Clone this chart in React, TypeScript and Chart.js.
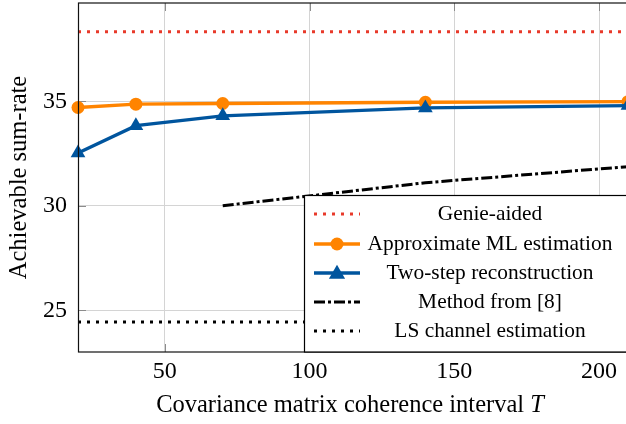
import React, { useEffect, useRef } from "react";
import { Chart, registerables } from "chart.js";

Chart.register(...registerables);

const xTicks = [50, 100, 150, 200];
const yTicks = [25, 30, 35];

const genieX = [20, 210];
const genieY = [38.33, 38.33];

const mlX = [20, 40, 70, 140, 210];
const mlY = [34.7, 34.86, 34.89, 34.95, 34.98];

const twoStepX = [20, 40, 70, 140, 210];
const twoStepY = [32.52, 33.83, 34.3, 34.68, 34.79];

const methodX = [70, 140, 210];
const methodY = [30.0, 31.1, 31.87];

const lsX = [20, 210];
const lsY = [24.44, 24.44];

const legendLabels = [
  "Genie-aided",
  "Approximate ML estimation",
  "Two-step reconstruction",
  "Method from [8]",
  "LS channel estimation",
];

const FONT = '"Liberation Serif", "Times New Roman", serif';
const RED = "#e8392a";
const ORANGE = "#ff8400";
const BLUE = "#00559e";

const toPts = (xs: number[], ys: number[]) => xs.map((x, i) => ({ x, y: ys[i] }));

const CANVAS_W = 640;
const CANVAS_H = 424;
const TITLE_SIZE = 24.5;
const TICK_SIZE = 24;
const LEGEND_SIZE = 21.4;
const LEGEND_ROWS = [214, 244, 273, 302, 331];

function drawMarker(ctx: CanvasRenderingContext2D, style: string, r: number, x: number, y: number, color: string) {
  ctx.save();
  ctx.fillStyle = color;
  ctx.beginPath();
  if (style === "triangle") {
    ctx.moveTo(x, y - r);
    ctx.lineTo(x + r * 0.866, y + r * 0.5);
    ctx.lineTo(x - r * 0.866, y + r * 0.5);
    ctx.closePath();
  } else {
    ctx.arc(x, y, r, 0, Math.PI * 2);
  }
  ctx.fill();
  ctx.restore();
}

const decorPlugin = {
  id: "decor",
  beforeDatasetsDraw(chart: any) {
    const { ctx, chartArea: a, scales } = chart;
    ctx.save();
    ctx.strokeStyle = "#8c8c8c";
    ctx.lineWidth = 1;
    const L = 8;
    xTicks.forEach((v) => {
      const px = Math.round(scales.x.getPixelForValue(v)) + 0.5;
      ctx.beginPath();
      ctx.moveTo(px, a.bottom);
      ctx.lineTo(px, a.bottom - L);
      ctx.moveTo(px, a.top);
      ctx.lineTo(px, a.top + L);
      ctx.stroke();
    });
    yTicks.forEach((v) => {
      const py = Math.round(scales.y.getPixelForValue(v)) + 0.5;
      ctx.beginPath();
      ctx.moveTo(a.left, py);
      ctx.lineTo(a.left + L, py);
      ctx.moveTo(a.right, py);
      ctx.lineTo(a.right - L, py);
      ctx.stroke();
    });
    ctx.restore();
  },
  afterDatasetsDraw(chart: any) {
    const { ctx, chartArea: a } = chart;
    ctx.save();
    ctx.strokeStyle = "#111";
    ctx.lineWidth = 1.2;
    ctx.strokeRect(a.left + 0.5, a.top, a.right - a.left, a.bottom - a.top);
    ctx.restore();
  },
  afterDraw(chart: any) {
    const { ctx, chartArea: a } = chart;
    ctx.save();
    // axis titles
    ctx.fillStyle = "#000";
    ctx.textBaseline = "middle";
    const t1 = "Covariance matrix coherence interval ";
    ctx.font = `${TITLE_SIZE}px ${FONT}`;
    const w1 = ctx.measureText(t1).width;
    ctx.font = `italic ${TITLE_SIZE}px ${FONT}`;
    const w2 = ctx.measureText("T").width;
    const cx = 350;
    const sx = cx - (w1 + w2) / 2;
    ctx.textAlign = "left";
    ctx.font = `${TITLE_SIZE}px ${FONT}`;
    ctx.fillText(t1, sx, 406);
    ctx.font = `italic ${TITLE_SIZE}px ${FONT}`;
    ctx.fillText("T", sx + w1, 406);

    ctx.save();
    ctx.translate(20, (a.top + a.bottom) / 2);
    ctx.rotate(-Math.PI / 2);
    ctx.textAlign = "center";
    ctx.font = `${TITLE_SIZE}px ${FONT}`;
    ctx.fillText("Achievable sum-rate", 0, 0);
    ctx.restore();

    // legend
    const lx = 304.5, ly = 195.5;
    ctx.fillStyle = "#fff";
    ctx.fillRect(lx, ly, CANVAS_W - lx + 10, a.bottom - ly);
    ctx.strokeStyle = "#000";
    ctx.lineWidth = 1.2;
    ctx.strokeRect(lx, ly, CANVAS_W - lx + 10, a.bottom - ly);
    const ds = chart.data.datasets;
    ds.forEach((d: any, i: number) => {
      const y = LEGEND_ROWS[i];
      ctx.save();
      ctx.strokeStyle = d.borderColor;
      ctx.lineWidth = d.borderWidth;
      ctx.setLineDash(d.borderDash || []);
      ctx.beginPath();
      ctx.moveTo(314, y);
      ctx.lineTo(360, y);
      ctx.stroke();
      ctx.restore();
      if (d.pointRadius > 0) {
        const tri = d.pointStyle === "triangle";
        drawMarker(ctx, d.pointStyle, tri ? d.pointRadius * 1.1 : d.pointRadius, 337, y + (tri ? 1 : 0), d.pointBackgroundColor);
      }
      ctx.fillStyle = "#000";
      ctx.font = `${LEGEND_SIZE}px ${FONT}`;
      ctx.textAlign = "center";
      ctx.textBaseline = "middle";
      ctx.fillText(legendLabels[i], 490, y);
    });
    ctx.restore();
  },
};

export default function App() {
  const ref = useRef<HTMLCanvasElement>(null);
  useEffect(() => {
    const canvas = ref.current!;
    const line = (data: any, color: string, extra: any) => ({
      data,
      borderColor: color,
      backgroundColor: color,
      pointBackgroundColor: color,
      pointBorderColor: color,
      borderWidth: 3,
      pointRadius: 0,
      pointBorderWidth: 0,
      fill: false,
      tension: 0,
      clip: false,
      ...extra,
    });
    const chart = new Chart(canvas, {
      type: "line",
      data: {
        datasets: [
          line(toPts(genieX, genieY), RED, { borderDash: [3, 6], order: 5 }),
          line(toPts(mlX, mlY), ORANGE, { pointRadius: 6.5, pointStyle: "circle", order: 4, borderWidth: 3.4 }),
          line(toPts(twoStepX, twoStepY), BLUE, { pointRadius: 8.5, pointStyle: "triangle", order: 3, borderWidth: 3.4 }),
          line(toPts(methodX, methodY), "#000", { borderDash: [11, 3, 3, 3], order: 2 }),
          line(toPts(lsX, lsY), "#000", { borderDash: [3, 6], order: 1 }),
        ],
      },
      options: {
        responsive: false,
        animation: false,
        events: [],
        layout: { autoPadding: false, padding: { top: 3, right: CANVAS_W - 628, left: 0, bottom: 0 } },
        plugins: { legend: { display: false }, tooltip: { enabled: false } },
        scales: {
          x: {
            type: "linear",
            min: 20,
            max: 210,
            afterBuildTicks: (s: any) => {
              s.ticks = xTicks.map((v) => ({ value: v }));
            },
            afterFit: (s: any) => {
              s.height = CANVAS_H - 352;
              s.paddingLeft = 0;
              s.paddingRight = 0;
            },
            grid: { color: "#d4d4d4", lineWidth: 1, drawTicks: false },
            border: { display: false },
            ticks: { color: "#000", font: { family: FONT, size: TICK_SIZE }, padding: 5, maxRotation: 0 },
          },
          y: {
            type: "linear",
            min: 23,
            max: 39.7,
            afterBuildTicks: (s: any) => {
              s.ticks = yTicks.map((v) => ({ value: v }));
            },
            afterFit: (s: any) => {
              s.width = 78;
              s.paddingTop = 0;
              s.paddingBottom = 0;
            },
            grid: { color: "#d4d4d4", lineWidth: 1, drawTicks: false },
            border: { display: false },
            ticks: { color: "#000", font: { family: FONT, size: TICK_SIZE }, padding: 11 },
          },
        },
      },
      plugins: [decorPlugin],
    });
    return () => chart.destroy();
  }, []);
  return (
    <div style={{ position: "fixed", left: 0, top: 0, width: 626, height: 424, overflow: "hidden", background: "#fff" }}>
      <canvas ref={ref} width={CANVAS_W} height={CANVAS_H} style={{ width: CANVAS_W, height: CANVAS_H, display: "block" }} />
    </div>
  );
}
